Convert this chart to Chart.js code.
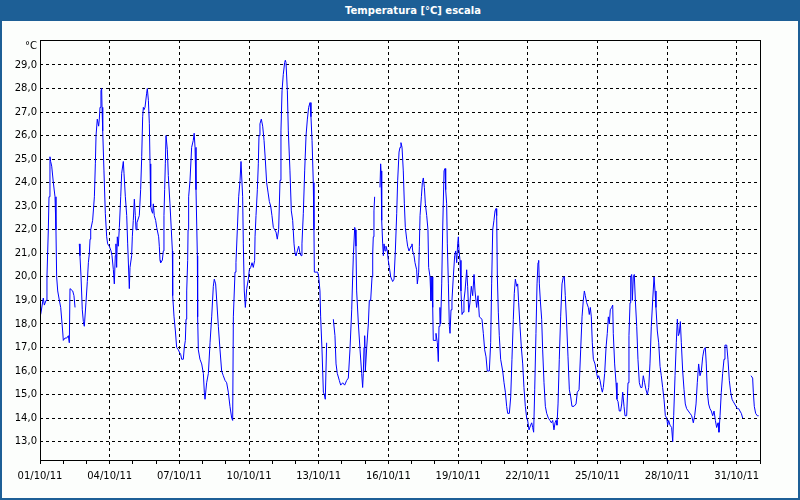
<!DOCTYPE html>
<html>
<head>
<meta charset="utf-8">
<script src="https://cdn.jsdelivr.net/npm/chart.js@4/dist/chart.umd.min.js"></script>
<style>
    body { margin: 0; background: #fcfefc; }
    #frame { position: relative; width: 800px; height: 500px; background: #fcfefc; overflow: hidden; }
    #tempChart { position: absolute; left: 0; top: 0; }
    #titleBar {
        position: absolute; left: 0; top: 0; width: 800px; height: 21px;
        box-sizing: border-box; padding-left: 26px;
        background: #1d5f96; color: #fff; text-align: center;
        font: bold 10px "DejaVu Sans"; line-height: 21px; z-index: 2;
    }
    #edge {
        position: absolute; left: 0; top: 0; width: 800px; height: 500px; box-sizing: border-box;
        border: 2px solid #1d5f96; border-top: none; pointer-events: none; z-index: 2;
    }
</style>
</head>
<body>
<div id="frame">
    <canvas id="tempChart" width="800" height="500"></canvas>
    <div id="titleBar">Temperatura [°C] escala</div>
    <div id="edge"></div>
</div>
<script>
// hours since 01/10/11 00:00 and the temperature read at that moment (null = no data)
const hours = [
    0.7, 3.4, 4.5, 6.2, 7.2, 8.6, 9.3, 10.3, 11.0, 12.1, 13.8, 15.5, 16.5, 17.2, 18.3, 20.0, 21.4, 23.4, 24.1, 25.8,
    27.6, 29.3, 30.3, 31.0, 33.8, 35.1, 36.2, 38.5, 40.6, 41.3, 42.4, 43.7, 44.8, 45.8, 47.5, 48.9, 50.0, 51.0, 51.7, 52.4,
    54.4, 56.2, 57.2, 57.9, 59.2, 60.6, 61.3, 62.0, 63.0, 63.7, 64.1, 64.8, 66.1, 67.5, 68.9, 69.9, 71.6, 73.4, 74.4, 75.8,
    76.8, 77.8, 78.5, 79.2, 79.9, 80.9, 82.0, 83.4, 84.4, 86.1, 86.8, 88.2, 89.6, 90.6, 92.3, 93.0, 94.7, 95.4, 96.4, 97.5,
    98.5, 99.2, 100.2, 102.6, 104.0, 105.1, 106.1, 106.8, 107.5, 108.5, 110.2, 110.9, 112.0, 113.0, 113.7, 114.4, 115.4, 116.4, 117.1, 118.1,
    119.5, 120.6, 122.6, 123.3, 124.0, 124.7, 126.4, 127.4, 128.1, 128.8, 129.5, 130.2, 131.6, 132.6, 134.3, 135.7, 136.8, 137.1, 138.5, 139.9,
    141.2, 143.0, 144.0, 145.4, 146.4, 148.1, 149.1, 150.2, 150.9, 151.6, 152.6, 153.0, 153.6, 155.0, 156.7, 158.4, 159.3, 160.2, 161.2, 162.6,
    162.9, 163.6, 165.3, 167.1, 168.8, 169.8, 170.5, 172.2, 174.0, 175.7, 177.4, 179.1, 180.1, 181.5, 182.6, 184.3, 186.0, 187.7, 189.4, 191.2,
    192.9, 194.6, 196.3, 198.1, 199.1, 199.8, 201.5, 202.5, 203.9, 205.3, 206.7, 207.7, 208.7, 209.4, 210.1, 211.1, 212.2, 213.6, 215.3, 216.3,
    217.7, 219.1, 220.4, 221.8, 222.2, 223.2, 224.6, 225.6, 226.3, 227.3, 228.7, 230.1, 231.5, 232.8, 234.2, 235.6, 237.0, 238.4, 239.7, 241.1,
    242.5, 243.9, 245.2, 246.6, 248.0, 249.0, 250.1, 251.4, 252.8, 253.5, 254.2, 255.6, 256.6, 258.3, 259.7, 261.1, 262.5, 263.5, 264.5, 265.9,
    267.3, 268.7, 269.7, 270.7, 272.1, 273.5, 274.9, 276.3, 277.6, 279.0, 280.0, 281.1, 282.4, 283.1, 283.5, 285.2, 286.9, 288.0, 289.3, 290.0,
    291.4, 292.8, 293.8, 294.8, 296.2, 299.6, 303.1, 304.8, 305.9, 307.2, 309.3, 310.7, 312.8, 314.8, 316.9, 318.6, 320.3, 322.1, 323.1, 323.8,
    325.2, 325.8, 326.5, 327.2, 329.0, 330.7, 332.4, 333.4, 334.1, 334.8, 335.5, 336.2, 337.6, 339.3, 340.3, 341.7, 343.1, 343.8, 344.4, 345.1,
    345.8, 348.5, 351.3, 352.0, 352.4, 353.1, 354.1, 354.8, 355.5, 356.5, 357.5, 358.9, 359.9, 361.0, 362.4, 364.4, 365.8, 367.2, 368.6, 369.6,
    371.0, 372.0, 373.0, 374.1, 375.4, 376.5, 377.5, 378.9, 379.9, 381.3, 382.3, 383.4, 384.4, 385.1, 386.5, 387.5, 389.2, 389.9, 391.3, 392.0,
    392.7, 394.1, 395.1, 396.1, 397.2, 398.2, 399.6, 400.9, 401.6, 403.0, 404.0, 405.1, 405.8, 406.4, 408.2, 409.2, 410.6, 411.6, 412.3, 413.3,
    414.0, 415.1, 416.1, 417.5, 418.5, 419.2, 420.2, 420.9, 422.0, 423.0, 423.7, 424.7, 425.7, 427.1, 428.5, 429.5, 430.6, 431.6, 432.3, 433.0,
    434.0, 435.0, 436.1, 437.1, 438.1, 439.2, 440.9, 441.9, 443.0, 444.3, 445.7, 447.1, 448.5, 449.5, 451.2, 452.6, 454.0, 456.7, 458.1, 459.5,
    460.9, 462.2, 464.3, 465.7, 466.7, 467.8, 469.1, 470.2, 471.2, 471.9, 472.6, 473.6, 474.6, 476.0, 478.1, 479.5, 480.9, 482.2, 483.3, 485.0,
    486.4, 487.7, 489.1, 490.1, 491.2, 492.6, 493.6, 494.6, 496.0, 497.4, 498.8, 500.1, 501.5, 502.9, 503.9, 505.3, 507.0, 508.1, 509.1, 510.1,
    511.2, 512.5, 513.6, 514.6, 515.3, 516.0, 517.0, 518.4, 519.4, 520.8, 522.2, 523.6, 525.3, 527.0, 528.4, 529.8, 531.1, 532.2, 533.2, 534.2,
    535.3, 536.6, 538.0, 539.4, 540.8, 541.8, 542.8, 544.2, 545.6, 547.0, 548.4, 549.7, 551.8, 553.9, 555.2, 557.0, 558.7, 560.1, 561.4, 562.5,
    563.5, 564.9, 566.6, 567.6, 568.7, 569.7, 570.7, 571.8, 573.5, 575.2, 576.3, 577.3, 578.7, 580.0, 581.1, 582.1, 583.5, 584.9, 586.2, 587.3,
    588.3, 589.3, 590.7, 591.8, 592.4, 593.8, 595.2, 596.2, 597.3, 598.6, 600.0, 601.1, 602.1, 603.5, 604.5, 606.2, 607.6, 608.6, 609.7, 610.4,
    611.4, 612.1, 613.1, 614.1, 615.2, 616.6, 617.9, 619.3, 620.7, 622.1, 623.4, 624.8, 626.2, 627.6, 629.0, 630.3, 631.7, 633.1, 634.5, 635.5,
    636.5, 637.9, 639.3, 640.7, 642.0, 643.4, 644.8, 646.2, 647.6, 648.6, 649.6, 651.0, 652.7, 653.8, 654.8, 656.2, 657.5, 658.6, 659.6, 660.6,
    661.7, 662.7, 664.1, 665.5, 666.8, 668.2, 669.9, 671.7, 673.4, 675.1, 676.5, 677.9, 679.2, 680.6, 682.0, 683.4, 684.8, 686.1, 687.5, 688.5,
    689.6, 690.9, 692.3, 693.7, 695.1, 696.5, 697.9, 699.2, 700.6, 701.6, 702.7, 704.0, 705.4, 706.8, 707.8, 709.6, 710.9, 712.3, 713.7, 715.1,
    716.4, 717.8, 719.2, 720.6, 722.0, 723.3, 724.7, 726.1, 730.0, 734.7, 736.4, 737.1, 738.1, 739.5, 741.2, 742.6
];
const temps = [
    18.4, 19.1, 18.8, 19.0, 20.0, 22.0, 23.4, 25.1, 24.9, 24.7, 24.0, 23.4, 22.0, 20.0, 19.4, 19.0, 18.7, 17.7, 17.3, 17.4,
    17.4, 17.5, 17.2, 19.5, 19.4, 19.2, 18.7, null, 21.4, 20.9, 20.0, 18.6, 18.1, 17.9, 18.9, 19.8, 20.6, 21.0, 21.6, 22.0,
    22.4, 23.4, 24.8, 26.0, 26.7, 26.4, 26.7, 27.2, 27.9, 28.0, 27.2, 26.2, 24.5, 22.7, 21.7, 21.4, 21.3, 21.1, 20.9, 20.3,
    19.7, 20.9, 21.4, 20.4, 21.7, 21.3, 22.1, 23.4, 24.4, 24.9, 24.4, 23.4, 22.6, 21.4, 19.5, 20.4, 20.9, 21.7, 22.4, 23.3,
    22.6, 22.0, 22.3, 22.6, 23.7, 25.1, 26.8, 27.2, 27.1, 27.2, 27.8, 28.0, 27.5, 26.5, 24.8, 23.0, 22.8, 22.7, 23.1, 22.6,
    22.4, 22.1, 21.7, 21.3, 20.7, 20.6, 20.7, 21.1, 22.6, 23.7, 24.8, 26.0, 25.4, 24.3, 23.1, 22.0, 21.1, 19.2, 18.3, 17.7,
    17.0, 16.9, 16.8, 16.7, 16.5, 16.5, 17.0, 17.3, 18.2, 19.4, 20.7, 22.0, 23.4, 24.1, 25.5, 25.8, 26.1, 25.5, 23.7, 20.9,
    18.3, 16.9, 16.5, 16.3, 15.9, 15.1, 14.8, 15.5, 15.9, 17.2, 18.3, 19.6, 19.9, 19.7, 19.0, 17.9, 16.9, 16.0, 15.8, 15.6,
    15.5, 15.1, 14.5, 14.0, 13.9, 18.3, 20.2, 20.6, 22.0, 23.4, 24.1, 24.9, 24.9, 23.4, 21.4, 19.4, 18.7, 19.5, 19.9, 20.3,
    20.4, 20.6, 20.4, 20.7, 21.7, 22.6, 23.7, 24.8, 26.0, 26.5, 26.7, 26.4, 25.8, 25.0, 24.0, 23.6, 23.2, 23.0, 22.6, 22.1,
    22.0, 21.9, 21.6, 22.0, 24.1, 26.2, 27.9, 28.6, 29.1, 29.2, 29.1, 27.9, 26.2, 24.5, 22.8, 22.4, 21.4, 21.0, 20.9, 21.1,
    21.3, 21.0, 20.9, 21.4, 22.7, 24.5, 26.0, 26.7, 27.2, 27.4, 26.8, 25.8, 24.0, 22.0, 20.2, 20.2, 20.2, 20.0, 19.4, 18.3,
    16.9, 15.1, 15.0, 14.8, 17.2, null, 18.2, 17.5, 16.3, 15.9, 15.6, 15.4, 15.5, 15.4, 15.6, 15.7, 16.9, 18.6, 20.0, 20.9,
    22.1, 22.0, 21.3, 19.4, 18.0, 16.9, 15.9, 15.3, 15.9, 17.0, 17.5, 16.0, 17.0, 18.0, 19.0, 19.0, 20.0, 21.0, 21.7, 22.8,
    23.4, null, 23.8, 24.8, 24.5, 22.4, 21.4, 20.9, 21.4, 21.1, 21.3, 21.1, 20.7, 20.4, 20.0, 19.8, 19.9, 21.1, 22.7, 24.1,
    25.3, 25.5, 25.7, 25.5, 24.5, 23.1, 22.1, 21.6, 21.3, 21.1, 21.1, 21.3, 21.4, 21.1, 20.9, 20.6, 20.3, 19.7, 20.2, 21.3,
    22.6, 23.4, 24.0, 24.2, 23.8, 23.1, 22.6, 22.0, 20.4, 20.0, 19.0, 20.0, 18.7, 17.3, 17.3, 17.6, 17.2, 16.4, 17.9, 18.7,
    18.0, 19.7, 22.0, 24.5, 24.6, 23.7, 23.1, 21.4, 19.7, 17.9, 17.6, 18.6, 19.0, 20.0, 20.9, 21.1, 20.6, 21.4, 21.7, 21.1,
    20.7, 19.4, 18.4, 18.5, 19.0, 19.4, 20.3, 19.6, 18.5, 18.9, 19.6, 19.2, 20.1, 19.4, 18.7, 19.2, 18.3, 18.2, 17.6, 16.9,
    16.6, 16.0, 16.0, 17.2, 19.7, 22.0, 22.4, 22.8, 22.9, 22.6, 20.0, 18.5, 17.5, 16.5, 16.0, 15.5, 15.1, 14.5, 14.2, 14.2,
    14.9, 16.5, 18.2, 19.3, 19.9, 19.6, 19.7, 18.9, 17.9, 17.0, 16.3, 15.3, 14.5, 14.0, 13.9, 13.5, 13.7, 13.8, 13.6, 13.4,
    15.2, 17.6, 19.7, 20.6, 20.7, 19.7, 19.0, 18.2, 16.9, 15.5, 14.5, 14.2, 14.0, 13.9, 13.8, 13.9, 13.5, 13.8, 13.9, 13.7,
    14.6, 16.5, 18.3, 19.7, 20.0, 20.0, 19.2, 18.0, 16.6, 15.2, 14.9, 14.5, 14.5, 14.6, 15.1, 15.2, 16.9, 18.3, 19.0, 19.4,
    19.2, 18.9, 18.7, 18.4, 18.7, 18.3, 17.2, 16.5, 16.3, 15.9, 15.7, 15.8, 15.6, 15.3, 15.1, 15.3, 15.9, 17.0, 17.6, 18.3,
    18.0, 18.6, 18.7, 18.8, 17.6, 16.3, 15.5, 14.8, 14.7, 14.3, 14.3, 14.6, 15.1, 14.5, 14.1, 14.1, 15.5, 17.5, 18.9, 20.0,
    20.1, 19.0, 20.0, 20.1, 19.0, 17.9, 16.5, 15.5, 15.3, 15.3, 15.8, 15.5, 15.2, 15.0, 15.3, 16.3, 17.9, 19.0, 20.0, 19.4,
    18.7, 17.7, 17.2, 16.2, 15.8, 15.3, 14.8, 14.1, 14.0, 13.7, 13.9, 13.7, 13.6, 13.0, 14.1, 15.8, 17.2, 18.2, 17.5, 17.6,
    18.1, 17.2, 16.0, 15.2, 14.6, 14.4, 14.3, 14.2, 14.1, 13.8, 14.1, 14.6, 15.5, 16.3, 15.8, 16.0, 16.6, 16.9, 17.0, 16.3,
    15.1, 14.6, 14.4, 14.3, 14.1, 14.3, 13.9, 13.6, 13.8, 13.4, 14.1, 15.1, 15.9, 16.5, 17.1, 17.1, 16.5, 15.6, 15.1, 14.8,
    14.7, 14.6, 14.5, 14.4, 14.4, 14.3, 14.2, 14.0, null, 15.8, 15.7, 15.1, 14.5, 14.2, 14.1, 14.1
];

// axis labels
const tempTicks = [13, 14, 15, 16, 17, 18, 19, 20, 21, 22, 23, 24, 25, 26, 27, 28, 29];
const dateLabels = ['01/10/11', '04/10/11', '07/10/11', '10/10/11', '13/10/11', '16/10/11',
    '19/10/11', '22/10/11', '25/10/11', '28/10/11', '31/10/11'];
const dayCount = 31;
const labelEvery = 3;
const unitLabel = '°C';

Chart.defaults.font.family = '"DejaVu Sans"';
Chart.defaults.font.size = 10;
Chart.defaults.color = '#000';

// plot frame and unit label
const framePlugin = {
    id: 'frame',
    afterDraw(chart) {
        const { ctx, chartArea: a } = chart;
        ctx.save();
        ctx.strokeStyle = '#000';
        ctx.lineWidth = 1;
        ctx.strokeRect(a.left + 0.5, a.top + 0.5, a.right - a.left, a.bottom - a.top);
        ctx.fillStyle = '#000';
        ctx.font = '10px "DejaVu Sans"';
        ctx.textAlign = 'right';
        ctx.textBaseline = 'middle';
        ctx.fillText(unitLabel, a.left - 3, a.top + 6);
        ctx.restore();
    }
};

document.addEventListener('DOMContentLoaded', function () {
    const ctx = document.getElementById('tempChart').getContext('2d');

    new Chart(ctx, {
        type: 'line',
        data: {
            datasets: [{
                data: hours.map((h, i) => ({ x: h, y: temps[i] })),
                borderColor: '#0000ff',
                borderWidth: 1,
                pointRadius: 0,
                tension: 0,
                spanGaps: false
            }]
        },
        options: {
            responsive: false,
            animation: false,
            layout: { padding: { top: 40, right: 40, left: 0, bottom: 0 } },
            plugins: { legend: { display: false }, tooltip: { enabled: false } },
            scales: {
                x: {
                    type: 'linear',
                    min: 0,
                    max: dayCount * 24,
                    afterBuildTicks: (scale) => {
                        const t = [];
                        for (let d = 0; d <= dayCount; d++) t.push({ value: d * 24 });
                        scale.ticks = t;
                    },
                    afterFit: (scale) => { scale.height = 40; },
                    ticks: {
                        autoSkip: false,
                        maxRotation: 0,
                        padding: 6,
                        callback: function (value) {
                            const d = Math.round(value / 24);
                            return d % labelEvery === 0 ? (dateLabels[d / labelEvery] || '') : '';
                        }
                    },
                    grid: {
                        color: (c) => (c.tick && c.tick.value > 0 && Math.round(c.tick.value / 24) % labelEvery === 0) ? '#000' : 'rgba(0,0,0,0)',
                        tickColor: '#000',
                        tickLength: 4,
                        tickBorderDash: [],
                        lineWidth: 1
                    },
                    border: { display: false, dash: [3, 3] }
                },
                y: {
                    min: 12.22,
                    max: 30.06,
                    afterBuildTicks: (scale) => {
                        scale.ticks = tempTicks.map(v => ({ value: v }));
                    },
                    afterFit: (scale) => { scale.width = 40; },
                    ticks: {
                        autoSkip: false,
                        padding: 3,
                        callback: (value) => value.toFixed(1).replace('.', ',')
                    },
                    grid: {
                        color: '#000',
                        drawTicks: false,
                        lineWidth: 1
                    },
                    border: { display: false, dash: [3, 3] }
                }
            }
        },
        plugins: [framePlugin]
    });
});
</script>
</body>
</html>
